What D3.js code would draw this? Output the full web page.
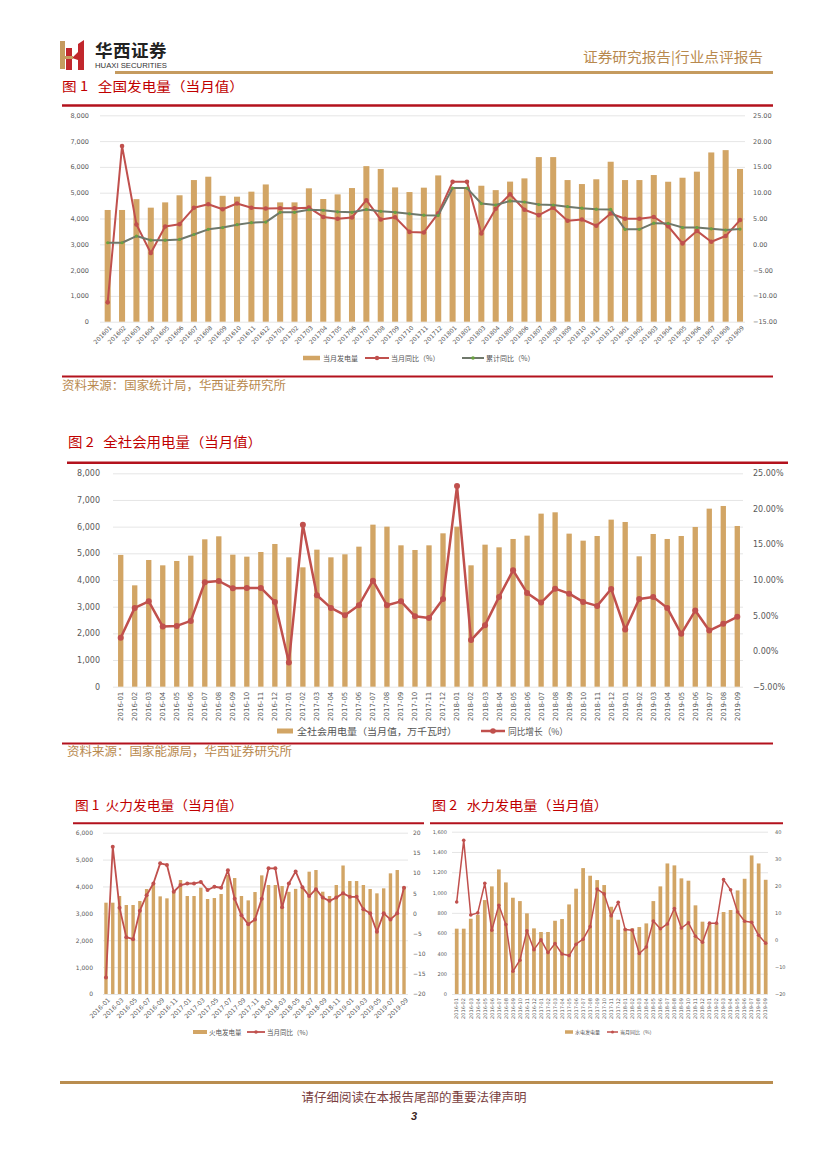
<!DOCTYPE html>
<html><head><meta charset="utf-8">
<script src="https://cdn.jsdelivr.net/npm/d3@7"></script>
<style>
body{margin:0;background:#fff}
svg{display:block}
text{font-family:"DejaVu Sans",sans-serif;white-space:pre}
</style>
</head><body>
<svg id="page" width="827" height="1169"></svg>
<script>
// ---------- DATA ----------
const monthsCompact = ["201601","201602","201603","201604","201605","201606","201607","201608","201609","201610","201611","201612",
"201701","201702","201703","201704","201705","201706","201707","201708","201709","201710","201711","201712",
"201801","201802","201803","201804","201805","201806","201807","201808","201809","201810","201811","201812",
"201901","201902","201903","201904","201905","201906","201907","201908","201909"];
const months = ["2016-01","2016-02","2016-03","2016-04","2016-05","2016-06","2016-07","2016-08","2016-09","2016-10","2016-11","2016-12",
"2017-01","2017-02","2017-03","2017-04","2017-05","2017-06","2017-07","2017-08","2017-09","2017-10","2017-11","2017-12",
"2018-01","2018-02","2018-03","2018-04","2018-05","2018-06","2018-07","2018-08","2018-09","2018-10","2018-11","2018-12",
"2019-01","2019-02","2019-03","2019-04","2019-05","2019-06","2019-07","2019-08","2019-09"];
const thermalTickLabels = ["2016-01","2016-03","2016-05","2016-07","2016-09","2016-11","2017-01","2017-03","2017-05","2017-07","2017-09","2017-11",
"2018-01","2018-03","2018-05","2018-07","2018-09","2018-11","2019-01","2019-03","2019-05","2019-07","2019-09"];

// Fig.1 national power generation
const genMonthly = [4330,4330,4750,4420,4625,4900,5490,5620,4880,4845,5040,5320,4625,4625,5170,4755,4935,5180,6030,5920,5205,5025,5195,5670,
5200,5200,5270,5100,5430,5555,6380,6380,5490,5335,5520,6200,5490,5490,5685,5425,5580,5815,6560,6650,5920];
const genYoY = [-11.25,19.06,3.85,-1.7,3.45,3.9,7.07,7.77,6.8,7.9,7.07,6.94,7.0,7.0,7.1,5.3,4.95,5.2,8.55,4.8,5.25,2.4,2.3,6.0,
12.1,12.1,2.1,6.9,9.7,6.7,5.65,7.1,4.55,4.8,3.6,5.97,4.95,4.95,5.3,3.5,0.17,2.6,0.5,1.6,4.7];
const genCumYoY = [0.3,0.3,1.6,0.8,0.8,0.94,1.9,2.9,3.25,3.8,4.2,4.3,6.2,6.2,6.7,6.6,6.3,6.2,6.75,6.4,6.2,5.9,5.65,5.6,
10.9,10.9,7.9,7.6,8.4,8.2,7.7,7.6,7.3,7.0,6.8,6.75,2.9,2.9,4.1,4.05,3.25,3.25,3.0,2.75,2.95];

// Fig.2 electricity consumption
const useMonthly = [4940,3800,4750,4550,4713,4913,5525,5638,4950,4875,5050,5350,4850,4475,5138,4850,4963,5250,6075,6000,5300,5125,5300,5750,
6000,4550,5325,5225,5538,5663,6488,6538,5738,5475,5650,6263,6175,4888,5725,5538,5650,5988,6675,6775,6025];
const useYoY = [1.88,6.08,7.0,3.46,3.55,4.25,9.67,9.86,8.83,8.88,8.88,6.92,-1.6,17.75,7.85,6.08,5.05,6.45,9.9,6.45,7.0,4.9,4.67,7.34,
23.2,1.55,3.65,7.62,11.36,8.18,6.82,8.78,8.08,6.92,6.36,8.74,3.04,7.34,7.62,6.08,2.43,5.7,2.9,3.84,4.82];

// thermal power
const thermalMonthly = [3397,3397,3645,3310,3310,3459,3905,4103,3632,3558,3830,4240,3645,3645,3955,3533,3570,3719,4425,4314,3645,3483,3793,4413,
4054,4054,4016,3800,3910,3950,4550,4612,3805,3645,4054,4780,4202,4202,4054,3905,3744,3930,4488,4612,3990];
const thermalYoY = [-15.9,16.5,1.4,-5.9,-6.4,0.66,4.5,7.4,12.4,12.0,5.36,7.0,7.4,7.4,7.8,5.8,6.6,6.35,10.66,3.6,-0.5,-2.7,-1.5,3.6,
11.16,11.16,1.5,7.4,10.4,6.45,4.3,6.0,3.9,3.1,3.9,4.96,4.1,4.1,1.0,0,-4.55,0,-1.5,0,6.35];

// hydro power
const hydroMonthly = [644,644,742,782,926,1061,1228,1100,949,916,795,647,611,611,722,739,883,1038,1241,1166,1123,1074,860,732,
647,647,660,696,916,1061,1287,1268,1140,1117,874,713,700,690,808,828,1021,1136,1366,1287,1126];
const hydroYoY = [14.0,36.8,9.2,10.0,20.9,3.6,12.8,5.7,-11.6,-7.5,3.4,-3.6,0,-4.7,-1.35,-5.2,-5.8,-1.6,0.25,4.9,18.8,17.0,8.9,13.9,
3.8,3.6,-5.05,-2.6,7.0,4.1,5.9,11.6,4.4,6.3,1.35,-0.86,6.2,6.2,22.3,18.5,10.3,6.9,6.5,1.7,-1.2];

// ---------- STYLE ----------
const CJK = '"Noto Sans CJK SC","Noto Sans",sans-serif';
const BAR = '#d2a565', RED = '#c0504d', GRID = '#dedede', AX = '#595959';
const RULE = '#b3121d', GOLD = '#c59b5f', GREENLINE = '#6f786b', GREENDOT = '#6aa23e';

const svg = d3.select('#page');
svg.append('rect').attr('width', 827).attr('height', 1169).attr('fill', '#fff');

function hline(x0, x1, y, color, w) {
  svg.append('line').attr('x1', x0).attr('x2', x1).attr('y1', y).attr('y2', y)
    .attr('stroke', color).attr('stroke-width', w);
}
function txt(x, y, s, size, color, opts = {}) {
  const t = svg.append('text').attr('x', x).attr('y', y).text(s)
    .attr('font-size', size).attr('fill', color)
    .attr('xml:space', 'preserve')
    .style('font-family', opts.family || CJK);
  if (opts.anchor) t.attr('text-anchor', opts.anchor);
  if (opts.weight) t.attr('font-weight', opts.weight);
  if (opts.style) t.attr('font-style', opts.style);
  if (opts.ls) t.attr('letter-spacing', opts.ls);
  if (opts.len) t.attr('textLength', opts.len).attr('lengthAdjust', 'spacingAndGlyphs');
  return t;
}

// ---------- HEADER ----------
const logo = svg.append('g');
logo.append('rect').attr('x', 60).attr('y', 41).attr('width', 5).attr('height', 28).attr('fill', GOLD);
logo.append('rect').attr('x', 66).attr('y', 48).attr('width', 6).attr('height', 22).attr('fill', '#c1272d');
logo.append('path').attr('d', 'M72,58 L78,52 L78,44 L84,40 L84,70 L78,70 L78,60 Z').attr('fill', '#c1272d');
logo.append('rect').attr('x', 65).attr('y', 56).attr('width', 8).attr('height', 3).attr('fill', GOLD);
txt(95, 57, '华西证券', 17.5, '#222', {weight: 'bold', ls: 0.5});
txt(95, 68, 'HUAXI SECURITIES', 6.5, '#333', {family: '"Liberation Sans Narrow","Liberation Sans",sans-serif', len: 72});
txt(583, 62, '证券研究报告|行业点评报告', 13.5, '#b8894e', {len: 180});
hline(115, 773, 72.5, GOLD, 3);

// ---------- CHART HELPER ----------
function drawChart(o) {
  const g = svg.append('g');
  const x = d3.scaleBand().domain(o.cats).range(o.xRange).paddingInner(o.pad).paddingOuter(o.pad / 2);
  const yL = d3.scaleLinear().domain(o.left.domain).range(o.yRange);
  const yR = d3.scaleLinear().domain(o.right.domain).range(o.yRange);
  const cx = d => x(d) + x.bandwidth() / 2;

  const grid = g.append('g').attr('transform', `translate(${o.grid[0]},0)`)
    .call(d3.axisLeft(yL).ticks(o.left.ticks).tickSize(-(o.grid[1] - o.grid[0])).tickFormat(''));
  grid.select('.domain').remove();
  grid.selectAll('line').attr('stroke', GRID).attr('stroke-width', 0.8);

  const la = g.append('g').attr('transform', `translate(${o.left.x},0)`)
    .call(d3.axisLeft(yL).ticks(o.left.ticks).tickSize(0).tickPadding(0).tickFormat(o.left.fmt));
  la.select('.domain').remove();
  la.selectAll('text').attr('fill', AX).attr('font-size', o.left.size).style('font-family', '"DejaVu Sans",sans-serif');

  const ra = g.append('g').attr('transform', `translate(${o.right.x},0)`)
    .call(d3.axisRight(yR).ticks(o.right.ticks).tickSize(0).tickPadding(0).tickFormat(o.right.fmt));
  ra.select('.domain').remove();
  ra.selectAll('text').attr('fill', AX).attr('font-size', o.right.size).style('font-family', '"DejaVu Sans",sans-serif');

  g.append('g').selectAll('rect').data(o.bars).join('rect')
    .attr('x', (d, i) => x(o.cats[i])).attr('width', x.bandwidth())
    .attr('y', d => yL(d)).attr('height', d => yL(0) - yL(d))
    .attr('fill', BAR);

  o.lines.forEach(L => {
    const line = d3.line().x((d, i) => cx(o.cats[i])).y(d => yR(d));
    g.append('path').datum(L.values).attr('d', line).attr('fill', 'none')
      .attr('stroke', L.color).attr('stroke-width', L.width).attr('stroke-linejoin', 'round');
    g.append('g').selectAll('circle').data(L.values).join('circle')
      .attr('cx', (d, i) => cx(o.cats[i])).attr('cy', d => yR(d)).attr('r', L.r)
      .attr('fill', L.dot);
  });

  const xa = g.append('g').attr('transform', `translate(0,${o.yRange[0]})`)
    .call(d3.axisBottom(x).tickValues(o.xTicks).tickSize(0).tickFormat(o.xFmt || (d => d)));
  xa.select('.domain').remove();
  xa.selectAll('text')
    .attr('fill', AX).attr('font-size', o.xSize).style('font-family', '"DejaVu Sans",sans-serif')
    .attr('text-anchor', 'end').attr('x', 0).attr('y', 0).attr('dy', '0.35em')
    .attr('transform', `translate(${o.xOff[0]},${o.xOff[1]}) rotate(${o.xRot})`);
  return {x, yL, yR};
}

function legendBar(x, y, w, h) {
  svg.append('rect').attr('x', x).attr('y', y - h / 2).attr('width', w).attr('height', h).attr('fill', BAR);
}
function legendLine(x0, x1, y, color, dot, width, r) {
  hline(x0, x1, y, color, width);
  svg.append('circle').attr('cx', (x0 + x1) / 2).attr('cy', y).attr('r', r).attr('fill', dot);
}

// ---------- CHART 1 ----------
txt(62, 91, '图 1   全国发电量（当月值）', 13, '#c00000', {len: 182});
hline(62, 773, 105.5, RULE, 2.5);
drawChart({
  cats: monthsCompact, bars: genMonthly,
  xRange: [100.5, 747.2], pad: 0.58, yRange: [321.7, 115.3],
  grid: [100, 745],
  left: {domain: [0, 8000], ticks: 8, x: 89, size: 6.5, fmt: d3.format(',')},
  right: {domain: [-15, 25], ticks: 8, x: 753, size: 6.5, fmt: d3.format('.2f')},
  lines: [
    {values: genYoY, color: RED, dot: RED, width: 2, r: 2.3},
    {values: genCumYoY, color: GREENLINE, dot: GREENDOT, width: 2, r: 1.6}
  ],
  xTicks: monthsCompact, xSize: 6, xRot: -45, xOff: [3, 5]
});
legendBar(303, 358, 17, 4.5);
txt(323, 360.5, '当月发电量', 7, '#555');
legendLine(365, 389, 358, RED, RED, 2, 2.2);
txt(391, 360.5, '当月同比（%）', 7, '#555');
legendLine(462, 484, 358, GREENLINE, GREENDOT, 2, 1.8);
txt(486, 360.5, '累计同比（%）', 7, '#555');
hline(62, 773, 376.5, RULE, 2);
txt(62, 390, '资料来源：国家统计局，华西证券研究所', 12, '#b8894e', {len: 224});

// ---------- CHART 2 ----------
txt(68, 446.5, '图 2   全社会用电量（当月值）', 13.5, '#c00000', {len: 194});
hline(67, 788, 462.7, RULE, 2.5);
drawChart({
  cats: months, bars: useMonthly,
  xRange: [113.7, 744.3], pad: 0.62, yRange: [686.7, 473.3],
  grid: [113, 743],
  left: {domain: [0, 8000], ticks: 8, x: 100, size: 8, fmt: d3.format(',')},
  right: {domain: [-5, 25], ticks: 6, x: 753, size: 8, fmt: d => d3.format('.2f')(d) + '%'},
  lines: [
    {values: useYoY, color: RED, dot: RED, width: 2.5, r: 3}
  ],
  xTicks: months, xSize: 7, xRot: -90, xOff: [0, 5]
});
legendBar(277, 731, 16, 5);
txt(297, 734.5, '全社会用电量（当月值，万千瓦时）', 9.5, '#555', {len: 160});
legendLine(481, 505, 731, RED, RED, 2.5, 2.8);
txt(508, 734.5, '同比增长（%）', 9.5, '#555', {len: 60});
hline(62, 773, 743.5, RULE, 2);
txt(67, 756, '资料来源：国家能源局，华西证券研究所', 12, '#b8894e', {len: 225});

// ---------- CHART 3 (thermal) ----------
txt(75, 810, '图 1  火力发电量（当月值）', 13, '#c00000', {len: 168});
hline(73, 424, 823.3, RULE, 2);
drawChart({
  cats: months, bars: thermalMonthly,
  xRange: [102.6, 407.4], pad: 0.5, yRange: [994, 832.7],
  grid: [103, 408],
  left: {domain: [0, 6000], ticks: 6, x: 93, size: 6, fmt: d3.format(',')},
  right: {domain: [-20, 20], ticks: 8, x: 413, size: 6, fmt: d3.format('d')},
  lines: [
    {values: thermalYoY, color: RED, dot: RED, width: 1.8, r: 2}
  ],
  xTicks: thermalTickLabels, xSize: 6.2, xRot: -45, xOff: [3, 5]
});
legendBar(193, 1032, 14, 4);
txt(209, 1034.5, '火电发电量', 6.5, '#555');
legendLine(247, 265, 1032, RED, RED, 1.8, 1.8);
txt(267, 1034.5, '当月同比（%）', 6.5, '#555');

// ---------- CHART 4 (hydro) ----------
txt(432, 810, '图 2   水力发电量（当月值）', 13, '#c00000', {len: 176});
hline(430, 783, 823.3, RULE, 2);
drawChart({
  cats: months, bars: hydroMonthly,
  xRange: [453.2, 769.2], pad: 0.47, yRange: [994, 831.7],
  grid: [452, 768],
  left: {domain: [0, 1600], ticks: 8, x: 447, size: 5, fmt: d3.format(',')},
  right: {domain: [-20, 40], ticks: 6, x: 775, size: 5, fmt: d3.format('d')},
  lines: [
    {values: hydroYoY, color: RED, dot: RED, width: 1.5, r: 1.8}
  ],
  xTicks: months, xSize: 5, xRot: -90, xOff: [0, 4]
});
legendBar(565, 1032, 8, 3.5);
txt(575, 1034, '水电发电量', 5, '#555');
legendLine(607, 618, 1032, RED, RED, 1.5, 1.5);
txt(620, 1034, '当月同比（%）', 5, '#555');

// ---------- FOOTER ----------
hline(60, 773, 1082.5, '#b98d4f', 3);
txt(414, 1102, '请仔细阅读在本报告尾部的重要法律声明', 12.5, '#7a3e3e', {anchor: 'middle', len: 225});
txt(414, 1120, '3', 11, '#3a1f1f', {anchor: 'middle', weight: 'bold', style: 'italic', family: '"Liberation Sans",sans-serif'});
</script>
</body></html>
